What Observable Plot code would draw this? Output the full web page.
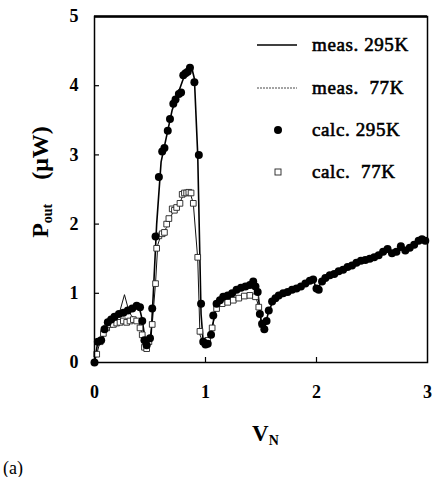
<!DOCTYPE html>
<html><head><meta charset="utf-8">
<script src="https://cdn.jsdelivr.net/npm/d3@7"></script>
<script src="https://cdn.jsdelivr.net/npm/@observablehq/plot@0.6"></script>
<style>
html,body{margin:0;padding:0;background:#fff;}
#wrap{position:relative;width:436px;height:477px;overflow:hidden;background:#fff;}
#wrap svg{position:absolute;left:0;top:0;}
</style></head><body><div id="wrap"></div>
<script>
// tick labels
const xTicks = [0, 1, 2, 3];
const yTicks = [0, 1, 2, 3, 4, 5];

// calculated, 295 K (filled circles)
const calc295X = [0,0.03,0.06,0.09,0.12,0.15,0.18,0.22,0.26,0.30,0.34,0.38,0.41,0.43,0.45,0.47,0.50,0.52,0.55,0.58,0.61,0.63,0.66,0.68,0.71,0.73,0.76,0.78,0.80,0.82,0.84,0.86,0.90,0.94,0.96,0.98,1.00,1.02,1.05,1.07,1.10,1.13,1.16,1.20,1.24,1.28,1.32,1.36,1.40,1.43,1.45,1.47,1.49,1.51,1.53,1.55,1.57,1.60,1.63,1.66,1.70,1.74,1.78,1.82,1.86,1.90,1.94,1.97,2.00,2.02,2.05,2.08,2.12,2.16,2.20,2.24,2.28,2.32,2.36,2.40,2.44,2.48,2.52,2.56,2.60,2.64,2.68,2.72,2.76,2.80,2.84,2.88,2.92,2.95,2.98];
const calc295Y = [0,0.30,0.32,0.48,0.58,0.62,0.66,0.70,0.72,0.75,0.78,0.82,0.80,0.60,0.32,0.25,0.35,0.78,1.82,2.68,3.05,3.10,3.35,3.52,3.74,3.80,3.88,3.90,4.15,4.18,4.20,4.26,4.05,3.00,0.85,0.30,0.26,0.27,0.40,0.68,0.85,0.90,0.95,0.97,1.00,1.05,1.08,1.10,1.12,1.17,1.10,1.02,0.70,0.56,0.48,0.60,0.75,0.88,0.93,0.97,1.00,1.02,1.05,1.07,1.10,1.14,1.18,1.20,1.07,1.05,1.17,1.22,1.26,1.28,1.32,1.34,1.38,1.40,1.44,1.47,1.48,1.50,1.52,1.55,1.60,1.64,1.58,1.60,1.68,1.62,1.66,1.70,1.76,1.78,1.76];

// measured, 295 K (solid line)
const meas295X = [0,0.03,0.07,0.10,0.20,0.30,0.40,0.43,0.46,0.48,0.51,0.53,0.56,0.60,0.70,0.80,0.87,0.90,0.93,0.96,0.98,1.02,1.06,1.10,1.20,1.30,1.40,1.44,1.47,1.50,1.53,1.57,1.62,1.70,1.80,1.90,1.97,2.00,2.05,2.20,2.40,2.60,2.80,2.95,2.98];
const meas295Y = [0,0.30,0.33,0.52,0.68,0.76,0.82,0.62,0.28,0.26,0.40,1.00,2.00,2.90,3.65,4.10,4.30,4.10,3.00,0.70,0.28,0.26,0.50,0.85,0.96,1.06,1.12,1.15,1.05,0.60,0.48,0.75,0.92,1.00,1.05,1.13,1.20,1.06,1.16,1.32,1.47,1.60,1.63,1.77,1.76];

// calculated, 77 K (open squares)
const calc77X = [0.02,0.05,0.08,0.11,0.14,0.17,0.20,0.23,0.26,0.29,0.32,0.35,0.38,0.41,0.43,0.45,0.47,0.49,0.52,0.55,0.56,0.58,0.61,0.63,0.65,0.67,0.70,0.72,0.74,0.77,0.79,0.81,0.83,0.85,0.87,0.89,0.93,0.95,0.98,1.02,1.06,1.10,1.15,1.20,1.25,1.30,1.35,1.40,1.45,1.48,1.51];
const calc77Y = [0.12,0.30,0.42,0.50,0.55,0.55,0.57,0.58,0.60,0.58,0.60,0.62,0.60,0.50,0.40,0.22,0.20,0.30,0.55,1.14,1.65,1.83,1.86,1.88,2.00,2.08,2.22,2.20,2.24,2.30,2.43,2.45,2.45,2.46,2.45,2.30,1.52,0.45,0.30,0.32,0.50,0.78,0.85,0.87,0.90,0.93,0.96,0.97,0.95,0.80,0.55];

// measured, 77 K (thin line)
const meas77X = [0,0.02,0.05,0.10,0.15,0.20,0.23,0.27,0.30,0.33,0.38,0.42,0.45,0.48,0.52,0.55,0.57,0.60,0.65,0.70,0.75,0.80,0.86,0.89,0.93,0.95,0.98,1.02,1.06,1.10,1.20,1.30,1.40,1.45,1.48,1.51];
const meas77Y = [0,0.12,0.30,0.48,0.55,0.62,0.75,0.98,0.80,0.68,0.62,0.50,0.22,0.20,0.55,1.15,1.70,1.85,1.95,2.15,2.25,2.42,2.46,2.30,1.50,0.40,0.28,0.30,0.50,0.80,0.88,0.93,0.98,0.97,0.80,0.55];

const zip = (X, Y) => X.map((x, i) => ({x, y: Y[i]}));
const calc295 = zip(calc295X, calc295Y);
const meas295 = zip(meas295X, meas295Y);
const calc77 = zip(calc77X, calc77Y);
const meas77 = zip(meas77X, meas77Y);

const serif = "'Liberation Serif', 'Times New Roman', serif";
const fmt = d3.format("d");

const chart = Plot.plot({
  width: 436, height: 477,
  marginLeft: 94, marginRight: 9, marginTop: 16, marginBottom: 115,
  x: {domain: [0, 3]},
  y: {domain: [0, 5]},
  style: {fontFamily: serif, color: "#000", background: "transparent"},
  marks: [
    Plot.axisX(xTicks, {tickSize: 0, tickPadding: 23, tickFormat: fmt, fontSize: 18, fontWeight: "bold", label: null}),
    Plot.axisY(yTicks, {tickSize: 0, tickPadding: 16, tickFormat: fmt, fontSize: 18, fontWeight: "bold", label: null}),
    Plot.axisX(xTicks.slice(1, -1), {tickSize: -5, tickFormat: () => "", label: null, strokeWidth: 1.2}),
    Plot.axisY(yTicks.slice(1, -1), {tickSize: -5, tickFormat: () => "", label: null, strokeWidth: 1.2}),
    Plot.line(meas77, {x: "x", y: "y", stroke: "#111", strokeWidth: 1}),
    Plot.line(meas295, {x: "x", y: "y", stroke: "#000", strokeWidth: 1.6}),
    Plot.dot(calc77, {x: "x", y: "y", symbol: "square", r: 3.2, fill: "white", stroke: "#222", strokeWidth: 0.9}),
    Plot.dot(calc295, {x: "x", y: "y", r: 4, fill: "#000"}),
    Plot.frame({stroke: "#000", strokeWidth: 1.5}),
    Plot.ruleY([yTicks[yTicks.length - 1]], {stroke: "#000", strokeWidth: 2.5})
  ]
});

const wrap = document.getElementById("wrap");
wrap.appendChild(chart);

// legend and titles overlay
const legendItems = [
  {label: "meas. 295K", kind: "line"},
  {label: "meas.  77K", kind: "thin"},
  {label: "calc. 295K", kind: "dot"},
  {label: "calc.  77K", kind: "square"}
];
const svg = d3.select(wrap).append("svg").attr("width", 436).attr("height", 477)
  .style("font-family", serif).style("pointer-events", "none");
const rowY = [45, 88, 130, 172];
legendItems.forEach((d, i) => {
  const y = rowY[i];
  if (d.kind === "line") svg.append("line").attr("x1", 257).attr("x2", 297).attr("y1", y).attr("y2", y).attr("stroke", "#000").attr("stroke-width", 1.4);
  if (d.kind === "thin") svg.append("line").attr("x1", 257).attr("x2", 297).attr("y1", y).attr("y2", y).attr("stroke", "#333").attr("stroke-width", 0.9).attr("stroke-dasharray", "2,1");
  if (d.kind === "dot") svg.append("circle").attr("cx", 278).attr("cy", y).attr("r", 4).attr("fill", "#000");
  if (d.kind === "square") svg.append("rect").attr("x", 275).attr("y", y - 3).attr("width", 6).attr("height", 6).attr("fill", "white").attr("stroke", "#222").attr("stroke-width", 0.9);
  svg.append("text").attr("x", 312).attr("y", y + 6).attr("font-size", 19).attr("letter-spacing", "0.6px")
    .attr("stroke", "#000").attr("stroke-width", 0.6).style("white-space", "pre").text(d.label);
});

// y-axis title
const yt = svg.append("g").attr("transform", "translate(48,182) rotate(-90)");
const t1 = yt.append("text").attr("text-anchor", "middle").attr("font-size", 24).attr("font-weight", "bold").style("white-space", "pre");
t1.append("tspan").text("P");
t1.append("tspan").attr("font-size", 14).attr("dy", 4).text("out");
t1.append("tspan").attr("dy", -4).text("    (\u03bcW)");

// x-axis title
const xt = svg.append("text").attr("x", 252).attr("y", 441).attr("font-size", 23).attr("font-weight", "bold");
xt.append("tspan").text("V");
xt.append("tspan").attr("font-size", 14).attr("dy", 4).text("N");

// panel label
svg.append("text").attr("x", 3).attr("y", 474).attr("font-size", 18).text("(a)");
</script></body></html>
